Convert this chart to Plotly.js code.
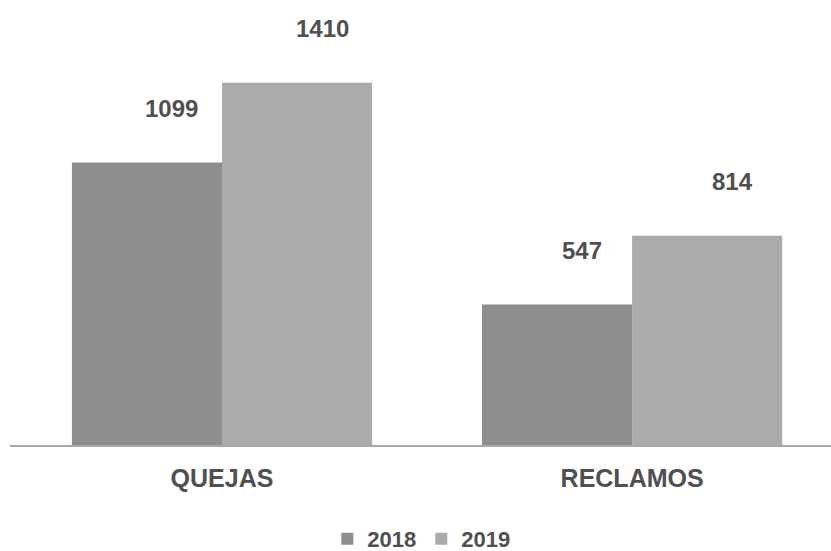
<!DOCTYPE html>
<html>
<head>
<meta charset="utf-8">
<script src="https://cdn.plot.ly/plotly-3.0.1.min.js"></script>
<style>
  html, body { margin: 0; padding: 0; background: #ffffff; }
  #chart { width: 831px; height: 551px; }
</style>
</head>
<body>
<div id="chart"></div>
<script>
// Quejas y reclamos recibidos por año
const categories = ['QUEJAS', 'RECLAMOS'];
const seriesNames = ['2018', '2019'];
const values2018 = [1099, 547];
const values2019 = [1410, 814];

const colors = ['#8e8e8e', '#ababab'];
const textColor = '#505050';
const fontFamily = '"Liberation Sans", Arial, sans-serif';

const bargap = 0.268;
const barWidth = (1 - bargap) / 2;

const traces = [values2018, values2019].map((vals, i) => ({
  type: 'bar',
  name: seriesNames[i],
  x: categories,
  y: vals,
  marker: { color: colors[i], line: { width: 0 } },
  hoverinfo: 'none'
}));

// Value labels sit above and slightly right of each bar
const annotations = [];
[values2018, values2019].forEach((vals, s) => {
  vals.forEach((v, c) => {
    annotations.push({
      x: c + (s === 0 ? -1 : 1) * barWidth / 2,
      y: v,
      xref: 'x', yref: 'y',
      text: String(v),
      showarrow: false,
      xanchor: 'center', yanchor: 'middle',
      xshift: 25, yshift: 54,
      font: { family: fontFamily, size: 24, color: textColor, weight: 700 }
    });
  });
});

const layout = {
  width: 831,
  height: 551,
  paper_bgcolor: '#ffffff',
  plot_bgcolor: '#ffffff',
  margin: { l: 10, r: 0, t: 20, b: 106 },
  barmode: 'group',
  bargap: bargap,
  bargroupgap: 0,
  showlegend: true,
  legend: {
    orientation: 'h',
    xref: 'container', yref: 'container',
    x: 0.507, y: 0.022,
    xanchor: 'center', yanchor: 'middle',
    font: { family: fontFamily, size: 22, color: textColor, weight: 700 },
    itemwidth: 30,
    tracegroupgap: 0,
    traceorder: 'normal'
  },
  xaxis: {
    type: 'category',
    range: [-0.517, 1.485],
    showgrid: false,
    zeroline: false,
    showline: true,
    linecolor: '#a8a8a8',
    linewidth: 2,
    ticks: '',
    ticklabelstandoff: 10,
    tickfont: { family: fontFamily, size: 25, color: textColor, weight: 700 }
  },
  yaxis: {
    range: [0, 1654],
    visible: false,
    showgrid: false,
    zeroline: false
  },
  annotations: annotations
};

Plotly.newPlot('chart', traces, layout, { displayModeBar: false, staticPlot: true });
</script>
</body>
</html>
